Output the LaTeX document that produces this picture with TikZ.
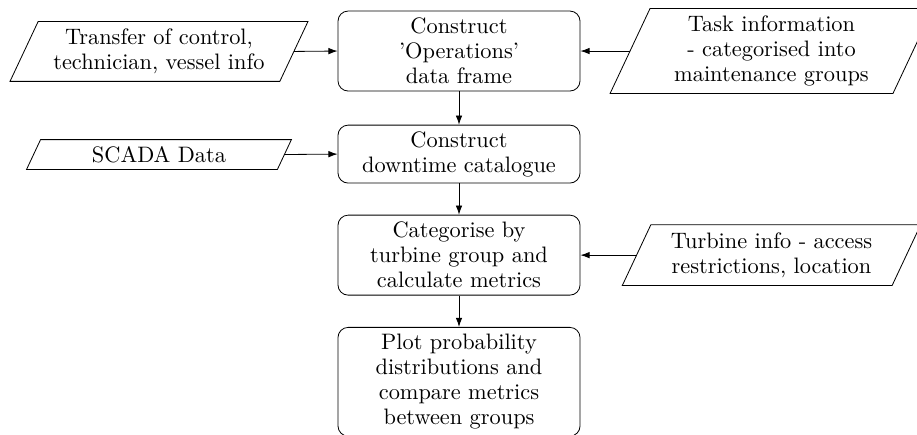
\documentclass[tikz,border=0pt]{standalone}
\usetikzlibrary{arrows.meta,calc}
\begin{document}
\begin{tikzpicture}[
  every node/.style={font=\fontsize{10.95pt}{12.2pt}\selectfont},
  proc/.style={draw, rectangle, rounded corners=5pt, align=center, minimum width=118.6pt, inner sep=2pt},
  iobox/.style={rectangle, align=center, inner sep=0pt},
  arr/.style={-{Latex[length=4.5pt,width=3.2pt]}},
]
\useasboundingbox (0,0) rectangle (449.3pt,-212.7pt);
% process boxes
\node[proc, minimum height=39.2pt] (b1) at (224.9pt,-25pt) {Construct\\'Operations'\\data frame};
\node[proc, minimum height=28.4pt] (b2) at (224.9pt,-75.5pt) {Construct\\downtime catalogue};
\node[proc, minimum height=39.2pt] (b3) at (224.9pt,-125pt) {Categorise by\\turbine group and\\calculate metrics};
\node[proc, minimum height=53.3pt, anchor=north] (b4) at (224.9pt,-160.2pt) {Plot probability\\distributions and\\compare metrics\\between groups};
% input/output boxes
\node[iobox, minimum width=131.8pt, minimum height=28.9pt] (p1) at (77.9pt,-25.2pt) {Transfer of control,\\technician, vessel info};
\node[iobox, minimum width=122.5pt, minimum height=14.2pt] (p2) at (77.9pt,-75.7pt) {SCADA Data};
\node[iobox, minimum width=138.2pt, minimum height=41.2pt] (r1) at (378pt,-25pt) {Task information\\- categorised into\\maintenance groups};
\node[iobox, minimum width=131.8pt, minimum height=29.4pt] (r2) at (378pt,-125pt) {Turbine info - access\\restrictions, location};
\foreach \nm in {p1,p2,r1,r2}{
  \draw let \p1=(\nm.north), \p2=(\nm.south), \n1={0.235*(\y1-\y2)} in
    ([xshift=\n1]\nm.north west) -- ([xshift=\n1]\nm.north east) --
    ([xshift=-\n1]\nm.south east) -- ([xshift=-\n1]\nm.south west) -- cycle;
}
% connectors
\draw[arr] (p1.east) -- (b1.west);
\draw[arr] (r1.west) -- (b1.east);
\draw[arr] (p2.east) -- (b2.west);
\draw[arr] (r2.west) -- (b3.east);
\draw[arr] (b1.south) -- (b2.north);
\draw[arr] (b2.south) -- (b3.north);
\draw[arr] (b3.south) -- (b4.north);
\end{tikzpicture}
\end{document}
